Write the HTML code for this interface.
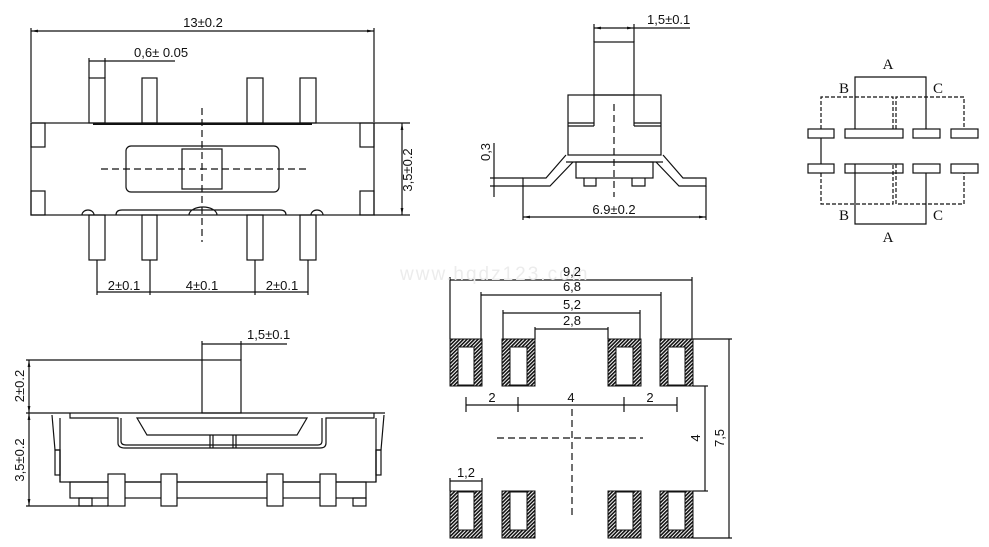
<!DOCTYPE html>
<html><head><meta charset="utf-8"><style>
html,body{margin:0;padding:0;background:#fff;}
svg{display:block;}
text{font-family:"Liberation Sans",sans-serif;font-size:13px;fill:#111;}
.s{font-family:"Liberation Serif",serif;font-size:15px;}
</style></head><body>
<svg width="989" height="547" viewBox="0 0 989 547" xmlns="http://www.w3.org/2000/svg">
<defs>
<pattern id="h" width="2.6" height="2.6" patternUnits="userSpaceOnUse" patternTransform="rotate(45)">
<rect width="2.6" height="2.6" fill="#fff"/><rect width="1.6" height="2.6" fill="#111"/>
</pattern>
<marker id="ar" viewBox="0 0 10 10" refX="10" refY="5" markerWidth="6" markerHeight="6" orient="auto-start-reverse"><path d="M0,3 L10,5 L0,7z" fill="#111"/></marker>
</defs>
<g stroke="#111" stroke-width="1.2" fill="none">
<line x1="31" y1="28" x2="31" y2="122"/><line x1="374" y1="28" x2="374" y2="122"/>
<line x1="31" y1="31" x2="374" y2="31" marker-start="url(#ar)" marker-end="url(#ar)"/>
<line x1="89" y1="58" x2="89" y2="78"/><line x1="105" y1="58" x2="105" y2="78"/>
<line x1="89" y1="61" x2="175" y2="61"/>
<rect x="31" y="123" width="343" height="92"/>
<rect x="31" y="123" width="14" height="24"/><rect x="31" y="191" width="14" height="24"/>
<rect x="360" y="123" width="14" height="24"/><rect x="360" y="191" width="14" height="24"/>
<line x1="374" y1="123" x2="410" y2="123"/><line x1="374" y1="215" x2="410" y2="215"/>
<line x1="402" y1="123" x2="402" y2="215" marker-start="url(#ar)" marker-end="url(#ar)"/>
<rect x="89" y="78" width="16" height="45"/><rect x="142" y="78" width="15" height="45"/>
<rect x="247" y="78" width="16" height="45"/><rect x="300" y="78" width="16" height="45"/>
<line x1="93" y1="124" x2="312" y2="124" stroke-width="2"/>
<rect x="126" y="146" width="153" height="46" rx="5"/>
<rect x="182" y="149" width="40" height="40"/>
<line x1="101" y1="169" x2="310" y2="169" stroke-dasharray="7,4"/>
<line x1="202" y1="108" x2="202" y2="242" stroke-dasharray="7,4"/>
<path d="M82,215 a6,5 0 0 1 12,0 M116,215 q0,-5 6,-5 L280,210 q6,0 6,5 M189,215 a14,8 0 0 1 28,0 M311,215 a6,5 0 0 1 12,0"/>
<rect x="89" y="215" width="16" height="45"/><rect x="142" y="215" width="15" height="45"/>
<rect x="247" y="215" width="16" height="45"/><rect x="300" y="215" width="16" height="45"/>
<line x1="97" y1="260" x2="97" y2="295"/><line x1="150" y1="260" x2="150" y2="295"/>
<line x1="255" y1="260" x2="255" y2="295"/><line x1="308" y1="260" x2="308" y2="295"/>
<line x1="97" y1="292" x2="308" y2="292"/>
<rect x="594" y="42" width="40" height="53"/>
<line x1="594" y1="24" x2="594" y2="42"/><line x1="634" y1="24" x2="634" y2="42"/>
<line x1="594" y1="28" x2="634" y2="28" marker-start="url(#ar)" marker-end="url(#ar)"/>
<line x1="634" y1="28" x2="690" y2="28"/>
<rect x="568" y="95" width="93" height="60"/>
<line x1="594" y1="95" x2="594" y2="126"/><line x1="634" y1="95" x2="634" y2="126"/>
<line x1="568" y1="123" x2="594" y2="123"/><line x1="568" y1="126" x2="594" y2="126"/>
<line x1="634" y1="123" x2="661" y2="123"/><line x1="634" y1="126" x2="661" y2="126"/>
<line x1="566" y1="162" x2="663" y2="162"/>
<rect x="576" y="162" width="77" height="16"/>
<path d="M584,178 v8 h12 v-8 M632,178 v8 h13 v-8"/>
<path d="M566,155 L546,178 L523,178 L523,186 L550,186 L573,162"/>
<path d="M663,155 L683,178 L706,178 L706,186 L679,186 L656,162"/>
<line x1="614" y1="104" x2="614" y2="197" stroke-dasharray="7,4"/>
<line x1="523" y1="186" x2="523" y2="220"/><line x1="706" y1="186" x2="706" y2="220"/>
<line x1="523" y1="217" x2="706" y2="217" marker-start="url(#ar)" marker-end="url(#ar)"/>
<line x1="490" y1="178" x2="523" y2="178"/><line x1="490" y1="186" x2="523" y2="186"/>
<line x1="494" y1="143" x2="494" y2="197"/>
<rect x="808" y="129" width="26" height="9"/><rect x="845" y="129" width="58" height="9"/>
<rect x="913" y="129" width="27" height="9"/><rect x="951" y="129" width="27" height="9"/>
<rect x="808" y="164" width="26" height="9"/><rect x="845" y="164" width="58" height="9"/>
<rect x="913" y="164" width="27" height="9"/><rect x="951" y="164" width="27" height="9"/>
<path d="M855,129 V77 H926 V129"/>
<path d="M855,164 V224 H926 V173"/>
<line x1="821" y1="138" x2="821" y2="164"/>
<g stroke-dasharray="4,2">
<path d="M821,129 V97 H893 V129 M896,129 V97 H964 V129"/>
<path d="M821,173 V204 H893 V164 M896,164 V204 H964 V173"/>
</g>
<rect x="202" y="360" width="39" height="53"/>
<line x1="202" y1="341" x2="202" y2="360"/><line x1="241" y1="341" x2="241" y2="360"/>
<line x1="202" y1="344" x2="287" y2="344"/>
<line x1="26" y1="360" x2="202" y2="360"/><line x1="26" y1="413" x2="385" y2="413"/><line x1="26" y1="506" x2="108" y2="506"/>
<line x1="29" y1="360" x2="29" y2="413" marker-start="url(#ar)" marker-end="url(#ar)"/>
<line x1="29" y1="413" x2="29" y2="506" marker-start="url(#ar)" marker-end="url(#ar)"/>
<path d="M52,415 L55,450 L60,450 L60,482 L376,482 L376,450 L381,450 L384,415"/>
<rect x="55" y="450" width="5" height="25"/><rect x="376" y="450" width="5" height="25"/>
<line x1="60" y1="418" x2="60" y2="482"/><line x1="376" y1="418" x2="376" y2="482"/>
<path d="M70,413 V418 H118 V443 q0,5 7,5 H320 q6,0 6,-5 V418 H374 V413"/>
<path d="M121,418 V441 q0,4 5,4 H318 q4,0 4,-4 V418"/>
<path d="M137,418 H307 L297,435 H147 Z"/>
<path d="M210,435 V448 M213,435 V448 M233,435 V448 M236,435 V448"/>
<rect x="70" y="482" width="296" height="16"/>
<rect x="79" y="498" width="13" height="8"/><rect x="353" y="498" width="13" height="8"/>
<rect x="108" y="474" width="17" height="32" fill="#fff"/><rect x="161" y="474" width="16" height="32" fill="#fff"/>
<rect x="267" y="474" width="16" height="32" fill="#fff"/><rect x="320" y="474" width="16" height="32" fill="#fff"/>
<line x1="450" y1="277" x2="450" y2="339"/><line x1="692" y1="277" x2="692" y2="339"/>
<line x1="450" y1="280" x2="692" y2="280"/>
<line x1="481" y1="292" x2="481" y2="339"/><line x1="661" y1="292" x2="661" y2="339"/>
<line x1="481" y1="295" x2="661" y2="295"/>
<line x1="503" y1="310" x2="503" y2="339"/><line x1="640" y1="310" x2="640" y2="339"/>
<line x1="503" y1="313" x2="640" y2="313"/>
<line x1="535" y1="327" x2="535" y2="339"/><line x1="608" y1="327" x2="608" y2="339"/>
<line x1="535" y1="329" x2="608" y2="329"/>
<line x1="466" y1="397" x2="466" y2="412"/><line x1="518" y1="397" x2="518" y2="412"/>
<line x1="624" y1="397" x2="624" y2="412"/><line x1="677" y1="397" x2="677" y2="412"/>
<line x1="466" y1="405" x2="677" y2="405"/>
<line x1="497" y1="438" x2="643" y2="438" stroke-dasharray="7,4"/>
<line x1="572" y1="409" x2="572" y2="517" stroke-dasharray="7,4"/>
<line x1="693" y1="339" x2="732" y2="339"/><line x1="693" y1="538" x2="732" y2="538"/>
<line x1="729" y1="339" x2="729" y2="538"/>
<line x1="693" y1="386" x2="708" y2="386"/><line x1="693" y1="491" x2="708" y2="491"/>
<line x1="705" y1="386" x2="705" y2="491"/>
<line x1="450" y1="478" x2="450" y2="491"/><line x1="482" y1="478" x2="482" y2="491"/>
<line x1="450" y1="481" x2="482" y2="481"/>
</g>
<g stroke="#111" stroke-width="1">
<g fill="url(#h)">
<rect x="450" y="339" width="32" height="47"/><rect x="502" y="339" width="33" height="47"/>
<rect x="608" y="339" width="33" height="47"/><rect x="660" y="339" width="33" height="47"/>
<rect x="450" y="491" width="32" height="47"/><rect x="502" y="491" width="33" height="47"/>
<rect x="608" y="491" width="33" height="47"/><rect x="660" y="491" width="33" height="47"/>
</g>
<g fill="#fff">
<rect x="458" y="347" width="16" height="38"/><rect x="510" y="347" width="17" height="38"/>
<rect x="616" y="347" width="17" height="38"/><rect x="668" y="347" width="17" height="38"/>
<rect x="458" y="492" width="16" height="38"/><rect x="510" y="492" width="17" height="38"/>
<rect x="616" y="492" width="17" height="38"/><rect x="668" y="492" width="17" height="38"/>
</g>
</g>
<text x="203" y="27" text-anchor="middle">13±0.2</text>
<text x="134" y="57">0,6± 0.05</text>
<text x="124" y="290" text-anchor="middle">2±0.1</text>
<text x="202" y="290" text-anchor="middle">4±0.1</text>
<text x="282" y="290" text-anchor="middle">2±0.1</text>
<text transform="translate(412,170) rotate(-90)" text-anchor="middle">3,5±0.2</text>
<text x="647" y="24">1,5±0.1</text>
<text x="614" y="214" text-anchor="middle">6.9±0.2</text>
<text transform="translate(490,152) rotate(-90)" text-anchor="middle">0,3</text>
<text class="s" x="888" y="69" text-anchor="middle">A</text>
<text class="s" x="844" y="93" text-anchor="middle">B</text>
<text class="s" x="938" y="93" text-anchor="middle">C</text>
<text class="s" x="844" y="220" text-anchor="middle">B</text>
<text class="s" x="938" y="220" text-anchor="middle">C</text>
<text class="s" x="888" y="242" text-anchor="middle">A</text>
<text x="247" y="339">1,5±0.1</text>
<text transform="translate(24,386) rotate(-90)" text-anchor="middle">2±0.2</text>
<text transform="translate(24,460) rotate(-90)" text-anchor="middle">3,5±0.2</text>
<text x="400" y="280" style="fill:#ececec;font-size:19px;letter-spacing:2px">www.hqdz123.com</text>
<text x="572" y="276" text-anchor="middle">9,2</text>
<text x="572" y="291" text-anchor="middle">6,8</text>
<text x="572" y="309" text-anchor="middle">5,2</text>
<text x="572" y="325" text-anchor="middle">2,8</text>
<text x="492" y="402" text-anchor="middle">2</text>
<text x="571" y="402" text-anchor="middle">4</text>
<text x="650" y="402" text-anchor="middle">2</text>
<text x="466" y="477" text-anchor="middle">1,2</text>
<text transform="translate(700,438) rotate(-90)" text-anchor="middle">4</text>
<text transform="translate(724,438) rotate(-90)" text-anchor="middle">7,5</text>
</svg>
</body></html>
